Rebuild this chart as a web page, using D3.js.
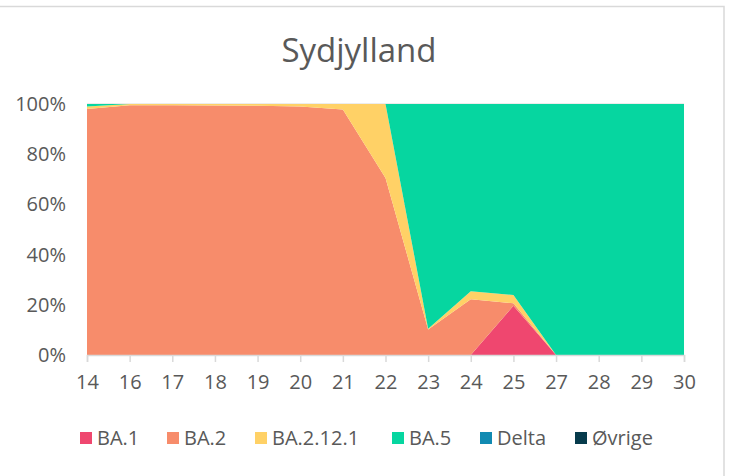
<!DOCTYPE html>
<html>
<head>
<meta charset="utf-8">
<script src="https://cdn.jsdelivr.net/npm/d3@7"></script>
<style>
  body { margin: 0; background: #fff; }
  text { font-family: "Open Sans", sans-serif; fill: #595959; }
</style>
</head>
<body>
<main></main>
<script>
// week numbers
let weeks = ['14', '16', '17', '18', '19', '20', '21', '22', '23', '24', '25', '27', '28', '29', '30']

// share per variant, percent
let ba1     = [0, 0, 0, 0, 0, 0, 0, 0, 0, 0, 19.6, 0, 0, 0, 0]
let ba2     = [98, 99.5, 99.5, 99.4, 99.3, 99, 97.8, 70.5, 10.2, 22.2, 1, 0, 0, 0, 0]
let ba2121  = [1, 0.5, 0.5, 0.6, 0.7, 1, 2.2, 29.5, 0.3, 3.2, 3.3, 0, 0, 0, 0]
let ba5     = [1, 0, 0, 0, 0, 0, 0, 0, 89.5, 74.6, 76.1, 100, 100, 100, 100]
let delta   = [0, 0, 0, 0, 0, 0, 0, 0, 0, 0, 0, 0, 0, 0, 0]
let ovrige  = [0, 0, 0, 0, 0, 0, 0, 0, 0, 0, 0, 0, 0, 0, 0]

let seriesNames = ['BA.1', 'BA.2', 'BA.2.12.1', 'BA.5', 'Delta', 'Øvrige']
let colors = ['#ef476f', '#f78c6b', '#ffd166', '#06d6a0', '#118ab2', '#073b4c']
let yTicks = [0, 0.2, 0.4, 0.6, 0.8, 1]

let rows = weeks.map((w, i) => ({
    week: w,
    'BA.1': ba1[i], 'BA.2': ba2[i], 'BA.2.12.1': ba2121[i],
    'BA.5': ba5[i], 'Delta': delta[i], 'Øvrige': ovrige[i]
}))

let svg = d3.select('main')
    .append('svg')
    .attr('width', 732)
    .attr('height', 476)

// chart frame
svg.append('rect')
    .attr('x', -2)
    .attr('y', 6.5)
    .attr('width', 726)
    .attr('height', 480)
    .style('fill', 'white')
    .style('stroke', '#d9d9d9')
    .style('stroke-width', '1.5px')

let x = d3.scalePoint().domain(weeks).range([87, 684])
let y = d3.scaleLinear().domain([0, 1]).range([355, 104])

let stacked = d3.stack()
    .keys(seriesNames)
    .offset(d3.stackOffsetExpand)(rows)

// gridlines
svg.append('g')
    .selectAll('line')
    .data(yTicks)
    .join('line')
    .attr('x1', 87)
    .attr('x2', 684)
    .attr('y1', d => y(d))
    .attr('y2', d => y(d))
    .style('stroke', '#d9d9d9')
    .style('stroke-width', '1px')

let area = d3.area()
    .x(d => x(d.data.week))
    .y0(d => y(d[0]))
    .y1(d => y(d[1]))

svg.append('g')
    .selectAll('path')
    .data(stacked)
    .join('path')
    .attr('d', area)
    .style('fill', (d, i) => colors[i])

// x axis
let xAxis = svg.append('g')
    .attr('transform', 'translate(0,355)')
    .call(d3.axisBottom(x).tickSize(7).tickPadding(13))
xAxis.select('.domain').style('stroke', '#d9d9d9').style('stroke-width', '1.5px')
xAxis.selectAll('.tick line').style('stroke', '#d9d9d9').style('stroke-width', '1.5px')
xAxis.selectAll('text')
    .style('font-size', '20px')
    .style('fill', '#595959')
    .style('font-family', '"Open Sans", sans-serif')

// y axis
let yAxis = svg.append('g')
    .attr('transform', 'translate(87,0)')
    .call(d3.axisLeft(y).tickValues(yTicks).tickFormat(d3.format('.0%')).tickSize(0).tickPadding(21))
yAxis.select('.domain').remove()
yAxis.selectAll('text')
    .style('font-size', '20px')
    .style('fill', '#595959')
    .style('font-family', '"Open Sans", sans-serif')

// title
svg.append('text')
    .attr('x', 359)
    .attr('y', 62)
    .attr('text-anchor', 'middle')
    .style('font-size', '33px')
    .text('Sydjylland')

// legend
let legendX = [80, 167, 255, 392, 480, 575]
let legend = svg.append('g')
    .selectAll('g')
    .data(seriesNames)
    .join('g')
    .attr('transform', (d, i) => `translate(${legendX[i]},432)`)
legend.append('rect')
    .attr('width', 12)
    .attr('height', 12)
    .style('fill', (d, i) => colors[i])
legend.append('text')
    .attr('x', 17)
    .attr('y', 13)
    .style('font-size', '20px')
    .text(d => d)
</script>
</body>
</html>
